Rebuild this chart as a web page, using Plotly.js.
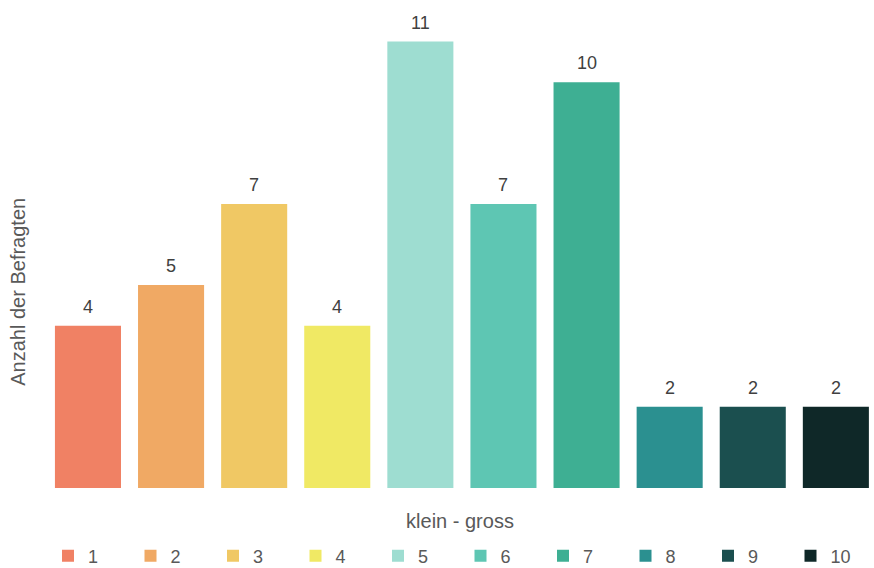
<!DOCTYPE html>
<html>
<head>
<meta charset="utf-8">
<script src="https://cdn.plot.ly/plotly-3.0.1.min.js"></script>
<style>html,body{margin:0;padding:0;background:#fff;}#chart{width:874px;height:568px;}</style>
</head>
<body>
<div id="chart"></div>
<script>
const categories = ["1","2","3","4","5","6","7","8","9","10"];
const values = [4,5,7,4,11,7,10,2,2,2];
const colors = ["#F08164","#F0A964","#F0C864","#F0E964","#9EDDD1","#5EC6B3","#3EAF93","#2B9090","#1B4F4F","#0F2828"];
const xTitle = "klein - gross";
const yTitle = "Anzahl der Befragten";

const FONT = "Liberation Sans, Arial, sans-serif";

const traces = categories.map((c, i) => ({
  type: "bar",
  name: c,
  x: [i],
  y: [values[i]],
  width: 0.795,
  marker: {color: colors[i]},
  hoverinfo: "skip"
}));

const annotations = categories.map((c, i) => ({
  x: i, y: values[i], xref: "x", yref: "y",
  text: String(values[i]), showarrow: false,
  yanchor: "bottom", yshift: 7,
  font: {family: FONT, size: 18, color: "#404040"}
}));
annotations.push({
  text: yTitle, textangle: -90, showarrow: false,
  xref: "paper", yref: "paper", x: (18 - 46) / 828, y: 0.403,
  xanchor: "center", yanchor: "middle",
  font: {family: FONT, size: 20, color: "#595959"}
});

const layout = {
  width: 874, height: 568,
  margin: {l: 46, r: 0, t: 1.4, b: 80},
  paper_bgcolor: "#fff", plot_bgcolor: "#fff",
  font: {family: FONT, color: "#595959", size: 18},
  barmode: "overlay",
  showlegend: true,
  annotations: annotations,
  legend: {orientation: "h", x: 48/874, xanchor: "left", xref: "container",
           y: 12/568, yanchor: "middle", yref: "container",
           entrywidth: 37.5, entrywidthmode: "pixels", font: {size: 18, color: "#595959"},
           traceorder: "normal"},
  xaxis: {range: [-0.505, 9.459], showticklabels: false, ticks: "", showgrid: false, zeroline: false, showline: false,
          title: {text: xTitle, font: {size: 20, color: "#595959"}, standoff: 25}},
  yaxis: {range: [0, 12], showticklabels: false, ticks: "", showgrid: false, zeroline: false, showline: false}
};

Plotly.newPlot("chart", traces, layout, {displayModeBar: false, staticPlot: true});
</script>
</body>
</html>
